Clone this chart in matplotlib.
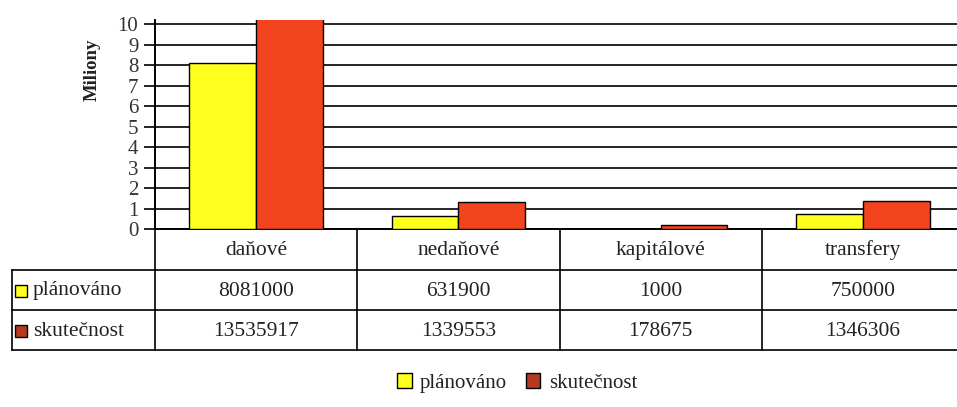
import matplotlib.pyplot as plt
from matplotlib.patches import Patch, Rectangle

plt.rcParams['font.family'] = ['Liberation Serif', 'DejaVu Serif']

categories = ["daňové", "nedaňové", "kapitálové", "transfery"]
planned = [8081000, 631900, 1000, 750000]
actual = [13535917, 1339553, 178675, 1346306]
series_names = ["plánováno", "skutečnost"]
yticks = [0, 1, 2, 3, 4, 5, 6, 7, 8, 9, 10]

YELLOW = "#FFFF1E"
RED = "#F2441F"
KEY_RED = "#B5391F"
TXT = "#222222"

W, H = 957, 407
fig = plt.figure(figsize=(W / 100, H / 100), dpi=100)

# axes placed in pixel terms, right edge runs past the canvas like the scan
ax_l, ax_r, ax_top, ax_bot = 155, 964, 20, 229
ax = fig.add_axes([ax_l / W, 1 - ax_bot / H, (ax_r - ax_l) / W, (ax_bot - ax_top) / H])
ax_h = ax_bot - ax_top

x = list(range(len(categories)))
bw = 0.33
ax.bar([i - bw / 2 for i in x], [v / 1e6 for v in planned], bw,
       color=YELLOW, edgecolor="black", linewidth=1, zorder=3)
ax.bar([i + bw / 2 for i in x], [v / 1e6 for v in actual], bw,
       color=RED, edgecolor="black", linewidth=1, zorder=3)

ax.set_xlim(-0.5, len(categories) - 0.5)
ax.set_ylim(0, 10.2)
ax.set_yticks(yticks)
ax.set_yticklabels([str(t) for t in yticks], fontsize=15, color="#333333")
ax.set_xticks([])
ax.tick_params(axis="y", length=8, width=1.2, color="black", pad=4)
ax.yaxis.grid(True, color="black", linewidth=1.2, zorder=0)
for s in ["top", "right"]:
    ax.spines[s].set_visible(False)
ax.spines["left"].set_linewidth(1.4)
ax.spines["bottom"].set_linewidth(1.4)

fig.text(92 / W, 1 - 70 / H, "Miliony", rotation=90, fontsize=13.5,
         fontweight="bold", ha="center", va="center", color=TXT)

# data table under the axis
tr = ax.get_xaxis_transform()
def ay(py):
    return (ax_bot - py) / ax_h

cat_w = (ax_r - ax_l) / len(categories)
left_x = -0.5 - (ax_l - 12) / cat_w
rows_y = [229, 270, 310, 350]
line_kw = dict(color="black", linewidth=1.2, transform=tr, clip_on=False)

for py in rows_y[1:]:
    ax.plot([left_x, len(categories) - 0.5], [ay(py), ay(py)], **line_kw)
for i in range(len(categories) + 1):
    ax.plot([i - 0.5, i - 0.5], [ay(rows_y[0]), ay(rows_y[-1])], **line_kw)
ax.plot([left_x, left_x], [ay(rows_y[1]), ay(rows_y[-1])], **line_kw)

tk = dict(transform=tr, ha="center", va="center", fontsize=15.5, color=TXT)
for i, c in enumerate(categories):
    ax.text(i, ay(250), c, **tk)
    ax.text(i, ay(291), str(planned[i]), **tk)
    ax.text(i, ay(331), str(actual[i]), **tk)

for name, col, py in [(series_names[0], YELLOW, 291), (series_names[1], KEY_RED, 331)]:
    fig.patches.append(Rectangle((15 / W, 1 - (py + 6) / H), 12 / W, 12 / H,
                                 facecolor=col, edgecolor="black", linewidth=1,
                                 transform=fig.transFigure))
    fig.text(33 / W, 1 - py / H, name, fontsize=15.5, ha="left", va="center", color=TXT)

handles = [Patch(facecolor=YELLOW, edgecolor="black", label=series_names[0]),
           Patch(facecolor=KEY_RED, edgecolor="black", label=series_names[1])]
fig.legend(handles=handles, loc="center", bbox_to_anchor=(517 / W, 1 - 383 / H),
           ncol=2, frameon=False, fontsize=15, handlelength=0.7, handleheight=0.7,
           handletextpad=0.4, columnspacing=0.9, labelcolor=TXT)

fig.savefig("out.png", dpi=100)
